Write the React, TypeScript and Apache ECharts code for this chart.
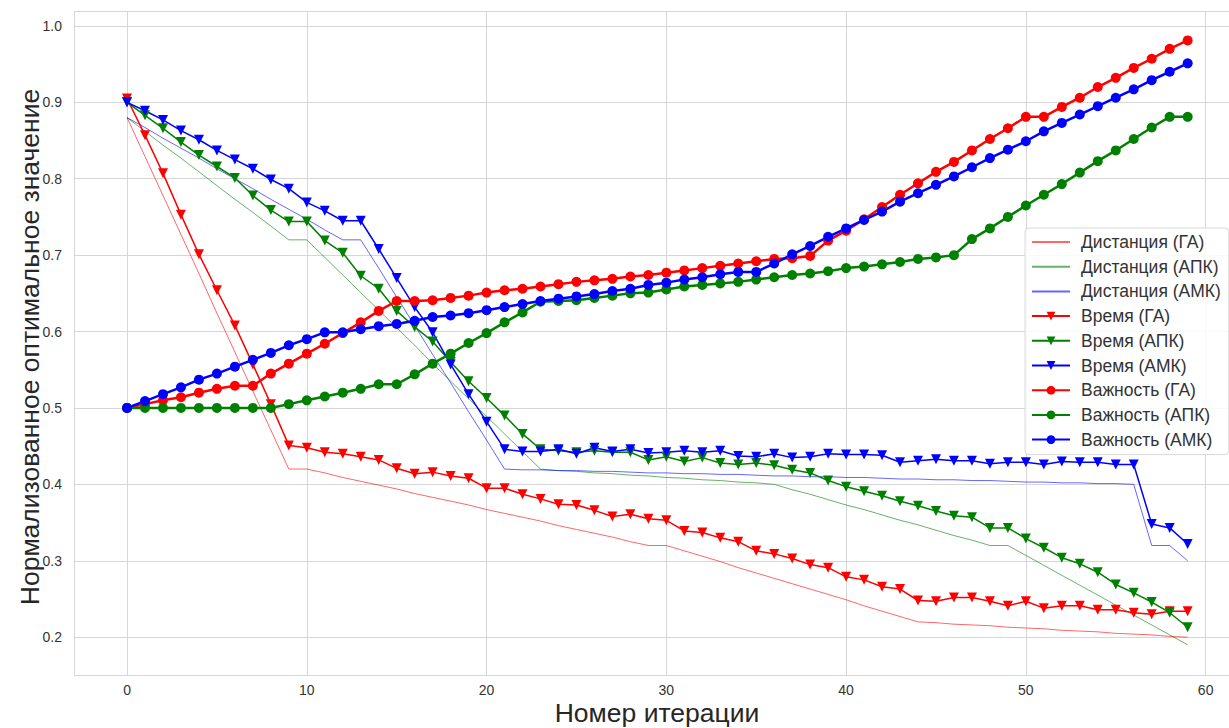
import React, { useEffect, useRef } from "react";
import * as echarts from "echarts";

const iterations = [
  0, 1, 2, 3, 4, 5, 6, 7, 8, 9, 10, 11, 12, 13, 14, 15, 16, 17, 18, 19,
  20, 21, 22, 23, 24, 25, 26, 27, 28, 29, 30, 31, 32, 33, 34, 35, 36, 37, 38, 39,
  40, 41, 42, 43, 44, 45, 46, 47, 48, 49, 50, 51, 52, 53, 54, 55, 56, 57, 58, 59,
];

const distanceGA = [
  0.88, 0.829, 0.778, 0.727, 0.676, 0.624, 0.573, 0.522, 0.471, 0.42,
  0.42, 0.415, 0.409, 0.404, 0.399, 0.394, 0.388, 0.383, 0.378, 0.373,
  0.367, 0.362, 0.357, 0.352, 0.346, 0.341, 0.336, 0.331, 0.325, 0.32,
  0.32, 0.313, 0.306, 0.299, 0.291, 0.284, 0.277, 0.27, 0.263, 0.256,
  0.249, 0.241, 0.234, 0.227, 0.22, 0.219, 0.217, 0.216, 0.215, 0.213,
  0.212, 0.211, 0.209, 0.208, 0.207, 0.205, 0.204, 0.203, 0.201, 0.2,
];
const distanceAPK = [
  0.88, 0.862, 0.844, 0.827, 0.809, 0.791, 0.773, 0.756, 0.738, 0.72,
  0.72, 0.697, 0.674, 0.651, 0.628, 0.605, 0.582, 0.558, 0.535, 0.512,
  0.489, 0.466, 0.443, 0.42, 0.418, 0.417, 0.415, 0.414, 0.412, 0.411,
  0.409, 0.408, 0.406, 0.405, 0.403, 0.402, 0.4, 0.393, 0.387, 0.38,
  0.373, 0.367, 0.36, 0.353, 0.347, 0.34, 0.333, 0.327, 0.32, 0.32,
  0.307, 0.294, 0.281, 0.268, 0.255, 0.242, 0.229, 0.216, 0.203, 0.19,
];
const distanceAMK = [
  0.88, 0.867, 0.853, 0.84, 0.827, 0.813, 0.8, 0.787, 0.773, 0.76,
  0.747, 0.733, 0.72, 0.72, 0.683, 0.645, 0.608, 0.57, 0.533, 0.495,
  0.458, 0.42, 0.419, 0.419, 0.418, 0.418, 0.417, 0.417, 0.416, 0.415,
  0.415, 0.414, 0.414, 0.413, 0.413, 0.412, 0.411, 0.411, 0.41, 0.41,
  0.409, 0.409, 0.408, 0.407, 0.407, 0.406, 0.406, 0.405, 0.405, 0.404,
  0.403, 0.403, 0.402, 0.402, 0.401, 0.401, 0.4, 0.32, 0.32, 0.3,
];

const timeGA = [
  0.905, 0.857, 0.807, 0.753, 0.701, 0.654, 0.608, 0.557, 0.505, 0.451,
  0.448, 0.442, 0.44, 0.436, 0.432, 0.421, 0.414, 0.416, 0.411, 0.408,
  0.395, 0.395, 0.387, 0.381, 0.374, 0.373, 0.366, 0.358, 0.361, 0.355,
  0.353, 0.339, 0.337, 0.33, 0.325, 0.313, 0.309, 0.303, 0.295, 0.291,
  0.279, 0.275, 0.266, 0.263, 0.248, 0.247, 0.252, 0.252, 0.247, 0.241,
  0.247, 0.238, 0.241, 0.241, 0.236, 0.236, 0.232, 0.23, 0.234, 0.234,
];
const timeAPK = [
  0.9, 0.883, 0.866, 0.848, 0.831, 0.816, 0.801, 0.778, 0.759, 0.744,
  0.744, 0.719, 0.703, 0.673, 0.656, 0.627, 0.606, 0.587, 0.56, 0.535,
  0.513, 0.49, 0.466, 0.446, 0.444, 0.442, 0.444, 0.442, 0.442, 0.432,
  0.436, 0.43, 0.435, 0.428, 0.426, 0.428, 0.425, 0.419, 0.415, 0.405,
  0.397, 0.391, 0.385, 0.378, 0.372, 0.365, 0.359, 0.357, 0.343, 0.343,
  0.329, 0.317, 0.304, 0.296, 0.285, 0.269, 0.258, 0.246, 0.232, 0.213,
];
const timeAMK = [
  0.9, 0.889, 0.877, 0.863, 0.851, 0.837, 0.825, 0.813, 0.799, 0.787,
  0.769, 0.758, 0.745, 0.745, 0.708, 0.67, 0.632, 0.599, 0.557, 0.518,
  0.482, 0.446, 0.443, 0.443, 0.446, 0.44, 0.448, 0.443, 0.446, 0.441,
  0.442, 0.444, 0.442, 0.444, 0.437, 0.436, 0.44, 0.435, 0.436, 0.44,
  0.439, 0.439, 0.438, 0.429, 0.431, 0.433, 0.431, 0.431, 0.427, 0.429,
  0.429, 0.426, 0.43, 0.429, 0.429, 0.426, 0.426, 0.348, 0.343, 0.322,
];

const importanceGA = [
  0.5, 0.505, 0.51, 0.514, 0.52, 0.525, 0.529, 0.529, 0.545, 0.558,
  0.571, 0.584, 0.598, 0.612, 0.627, 0.64, 0.64, 0.641, 0.644, 0.647,
  0.651, 0.654, 0.656, 0.659, 0.662, 0.665, 0.667, 0.669, 0.672, 0.674,
  0.677, 0.68, 0.683, 0.686, 0.689, 0.692, 0.695, 0.696, 0.699, 0.719,
  0.732, 0.747, 0.763, 0.779, 0.794, 0.809, 0.822, 0.837, 0.852, 0.866,
  0.881, 0.881, 0.894, 0.906, 0.92, 0.932, 0.945, 0.957, 0.97, 0.981,
];
const importanceAPK = [
  0.5, 0.5, 0.5, 0.5, 0.5, 0.5, 0.5, 0.5, 0.5, 0.505,
  0.51, 0.515, 0.52, 0.525, 0.531, 0.531, 0.544, 0.558, 0.571, 0.585,
  0.598, 0.612, 0.625, 0.639, 0.64, 0.641, 0.644, 0.647, 0.65, 0.651,
  0.655, 0.659, 0.661, 0.663, 0.665, 0.668, 0.671, 0.674, 0.676, 0.679,
  0.683, 0.685, 0.688, 0.691, 0.695, 0.697, 0.7, 0.721, 0.735, 0.75,
  0.765, 0.779, 0.793, 0.808, 0.823, 0.837, 0.852, 0.867, 0.881, 0.881,
];
const importanceAMK = [
  0.5, 0.509, 0.518, 0.527, 0.537, 0.545, 0.554, 0.563, 0.572, 0.582,
  0.59, 0.599, 0.599, 0.603, 0.607, 0.61, 0.614, 0.619, 0.621, 0.624,
  0.628, 0.632, 0.636, 0.64, 0.643, 0.646, 0.649, 0.653, 0.656, 0.661,
  0.664, 0.668, 0.671, 0.675, 0.678, 0.678, 0.689, 0.701, 0.712, 0.724,
  0.735, 0.746, 0.757, 0.77, 0.781, 0.792, 0.803, 0.815, 0.827, 0.838,
  0.849, 0.862, 0.873, 0.884, 0.895, 0.906, 0.917, 0.929, 0.94, 0.951,
];

const seriesNames = [
  "Дистанция (ГА)", "Дистанция (АПК)", "Дистанция (АМК)",
  "Время (ГА)", "Время (АПК)", "Время (АМК)",
  "Важность (ГА)", "Важность (АПК)", "Важность (АМК)",
];
const xTitle = "Номер итерации";
const yTitle = "Нормализованное оптимальное значение";

const RED = "#ff0000";
const GREEN = "#008000";
const BLUE = "#0000ff";
const FONT = "'Liberation Sans', Arial, sans-serif";

function pairs(values: number[]) {
  return iterations.map((x, i) => [x, values[i]]);
}

export default function App() {
  const ref = useRef<HTMLDivElement>(null);

  useEffect(() => {
    if (!ref.current) return;
    const chart = echarts.init(ref.current, undefined, { renderer: "svg" });

    const distance = (name: string, values: number[], color: string) => ({
      name,
      type: "line",
      data: pairs(values),
      symbol: "none",
      showSymbol: false,
      color,
      lineStyle: { width: 1, color, opacity: 0.6 },
      itemStyle: { color, opacity: 0 },
      silent: true,
    });
    const time = (name: string, values: number[], color: string) => ({
      name,
      type: "line",
      data: pairs(values),
      symbol: "triangle",
      symbolRotate: 180,
      symbolSize: 10,
      color,
      lineStyle: { width: 1.5, color },
      itemStyle: { color },
      silent: true,
    });
    const importance = (name: string, values: number[], color: string) => ({
      name,
      type: "line",
      data: pairs(values),
      symbol: "circle",
      symbolSize: 10,
      color,
      lineStyle: { width: 2.5, color },
      itemStyle: { color },
      silent: true,
    });

    const legendData = seriesNames.map((name, i) =>
      i < 3 ? { name, itemStyle: { opacity: 0 } } : { name }
    );

    chart.setOption({
      animation: false,
      backgroundColor: "#ffffff",
      textStyle: { fontFamily: FONT },
      grid: { left: 74, top: 11, right: 0, height: 664, containLabel: false },
      xAxis: {
        type: "value",
        min: -2.95,
        max: 61.3,
        splitNumber: 6,
        axisLine: { show: false },
        axisTick: { show: false },
        axisLabel: {
          showMinLabel: false,
          showMaxLabel: false,
          color: "#333333",
          fontSize: 14,
          fontFamily: FONT,
          margin: 8,
          formatter: (v: number) => String(Math.round(v)),
        },
        splitLine: { show: true, lineStyle: { color: "#d6d6d6", width: 1 } },
      },
      yAxis: {
        type: "value",
        min: 0.1505,
        max: 1.0195,
        splitNumber: 8,
        axisLine: { show: false },
        axisTick: { show: false },
        axisLabel: {
          showMinLabel: false,
          showMaxLabel: false,
          color: "#333333",
          fontSize: 14,
          fontFamily: FONT,
          margin: 12,
          formatter: (v: number) => v.toFixed(1),
        },
        splitLine: { show: true, lineStyle: { color: "#d6d6d6", width: 1 } },
      },
      legend: {
        orient: "vertical",
        left: 1025,
        top: 228,
        padding: [5, 8, 6, 6],
        itemWidth: 38,
        itemHeight: 11,
        itemGap: 6.7,
        backgroundColor: "rgba(255,255,255,0.85)",
        borderColor: "#d9d9d9",
        borderWidth: 1,
        borderRadius: 4,
        textStyle: {
          fontSize: 17.5,
          lineHeight: 18,
          color: "#333333",
          fontFamily: FONT,
          padding: [0, 0, 0, 6],
        },
        data: legendData,
      },
      graphic: [
        {
          type: "text",
          x: 30,
          y: 347,
          rotation: Math.PI / 2,
          style: {
            text: yTitle,
            fontSize: 26.5,
            fontFamily: FONT,
            fill: "#262626",
            align: "center",
            verticalAlign: "middle",
          },
          silent: true,
        },
        {
          type: "text",
          x: 657,
          y: 713,
          style: {
            text: xTitle,
            fontSize: 26.5,
            fontFamily: FONT,
            fill: "#262626",
            align: "center",
            verticalAlign: "middle",
          },
          silent: true,
        },
      ],
      series: [
        distance(seriesNames[0], distanceGA, RED),
        distance(seriesNames[1], distanceAPK, GREEN),
        distance(seriesNames[2], distanceAMK, BLUE),
        time(seriesNames[3], timeGA, RED),
        time(seriesNames[4], timeAPK, GREEN),
        time(seriesNames[5], timeAMK, BLUE),
        importance(seriesNames[6], importanceGA, RED),
        importance(seriesNames[7], importanceAPK, GREEN),
        importance(seriesNames[8], importanceAMK, BLUE),
      ],
    });

    return () => chart.dispose();
  }, []);

  return (
    <div
      ref={ref}
      style={{ position: "fixed", left: 0, top: 0, width: 1229, height: 728, background: "#fff" }}
    />
  );
}
